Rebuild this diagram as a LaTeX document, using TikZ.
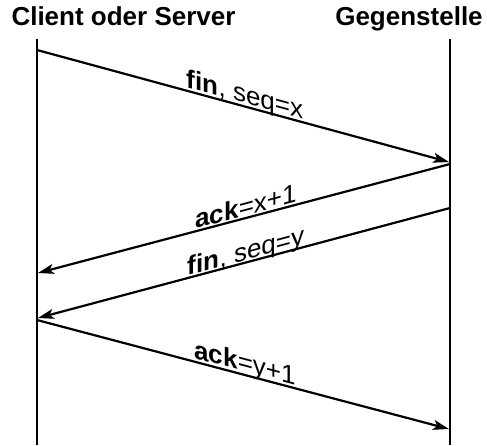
\documentclass[tikz,border=0pt]{standalone}
\usepackage{fontspec}
\setmainfont{Liberation Sans}
\usetikzlibrary{arrows.meta}

\begin{document}
\begin{tikzpicture}[x=1pt,y=-1pt,line width=2.2pt,
    >={Stealth[length=16pt,width=10pt,inset=4pt]},
    party/.style={anchor=base,inner sep=0pt,font=\fontsize{26}{26}\selectfont\bfseries},
    msg/.style={anchor=base,inner sep=0pt,pos=0.5,yshift=3pt,font=\fontsize{26}{26}\selectfont}]
  \useasboundingbox (0,0) rectangle (487,445);
  \draw (123.5,25)node[party](client){Client oder Server};
  \draw (409,25)node[party](peer){Gegenstelle};
  \draw (37,39)coordinate(ct) (37,445)coordinate(cb);
  \draw (450,39)coordinate(pt) (450,445)coordinate(pb);
  \draw (37,50)coordinate(c1) (449,162)coordinate(p1);
  \draw (450,164)coordinate(p2) (38,273)coordinate(c2);
  \draw (450,208)coordinate(p3) (38,318)coordinate(c3);
  \draw (37,320)coordinate(c4) (449,429)coordinate(p4);
  \draw (ct) -- (cb);
  \draw (pt) -- (pb);
  \path[->] (c1) edge node[msg,xshift=2pt,yslant=-0.2725]{\textbf{fin}, seq=x}(p1);
  \path[->] (p2) edge node[msg,xshift=2pt,yslant=0.2646]{\textbf{ack}=x+1}(c2);
  \path[->] (p3) edge node[msg,xshift=2pt,yslant=0.267]{\textbf{fin}, seq=y}(c3);
  \path[->] (c4) edge node[msg,xshift=2pt,yslant=-0.265]{\textbf{ack}=y+1}(p4);
\end{tikzpicture}
\end{document}
